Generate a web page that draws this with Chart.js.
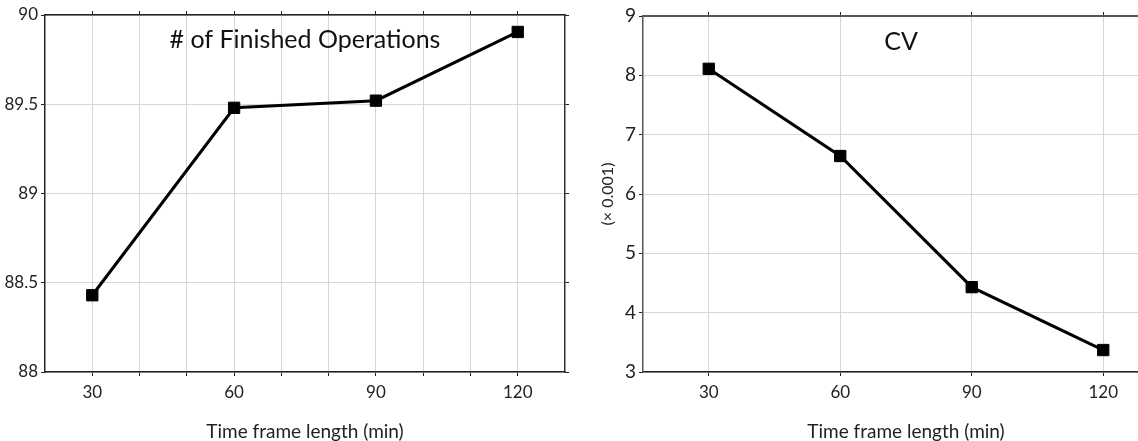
<!DOCTYPE html>
<html>
<head>
<meta charset="utf-8">
<script src="https://cdn.jsdelivr.net/npm/chart.js@4.4.1/dist/chart.umd.min.js"></script>
<style>
  html, body { margin: 0; padding: 0; background: #fff; overflow: hidden; width: 1138px; height: 441px; }
  #left { position: absolute; left: 0; top: 0; }
  #right { position: absolute; left: 580px; top: 0; }
</style>
</head>
<body>
<canvas id="left" width="580" height="441"></canvas>
<canvas id="right" width="600" height="441"></canvas>
<script>
// data
const timeFrames = [30, 60, 90, 120];
const finishedOps = [88.43, 89.48, 89.52, 89.905];
const cvValues = [8.11, 6.64, 4.43, 3.37];

// tick positions
const leftGridX = [30, 40, 50, 60, 70, 80, 90, 100, 110, 120];
const labelX = [30, 60, 90, 120];
const leftTicksY = [88, 88.5, 89, 89.5, 90];
const rightTicksY = [3, 4, 5, 6, 7, 8, 9];

const FONT = 'Lato';
const GRID = '#d6d6d6';

// title drawn inside the plot area
const innerTitle = {
  id: 'innerTitle',
  afterDraw(chart, args, opts) {
    const { ctx, chartArea } = chart;
    ctx.save();
    ctx.font = '25px ' + FONT;
    ctx.fillStyle = '#111';
    ctx.textAlign = 'center';
    ctx.textBaseline = 'alphabetic';
    ctx.fillText(opts.text, (chartArea.left + chartArea.right) / 2 + (opts.dx || 0), opts.y);
    ctx.restore();
  }
};

function setTicks(list) {
  return function (scale) {
    scale.ticks = list.map(v => ({ value: v }));
  };
}

function points(xs, ys) {
  return xs.map((x, i) => ({ x: x, y: ys[i] }));
}

function lineDataset(data) {
  return {
    data: data,
    borderColor: '#000',
    borderWidth: 3,
    pointStyle: 'rect',
    pointRadius: 8,
    pointBackgroundColor: '#000',
    pointBorderColor: '#000',
    pointBorderWidth: 1,
    tension: 0
  };
}

const xTitle = {
  display: true,
  text: 'Time frame length (min)',
  color: '#222',
  font: { family: FONT, size: 19 },
  padding: { top: 0, bottom: -2 }
};

// left chart: # of Finished Operations
new Chart(document.getElementById('left'), {
  type: 'line',
  data: { datasets: [lineDataset(points(timeFrames, finishedOps))] },
  plugins: [innerTitle],
  options: {
    responsive: false,
    animation: false,
    layout: { padding: 0 },
    plugins: {
      legend: { display: false },
      tooltip: { enabled: false },
      innerTitle: { text: '# of Finished Operations', y: 48 }
    },
    scales: {
      x: {
        type: 'linear', position: 'bottom', min: 20, max: 130,
        afterBuildTicks: setTicks(leftGridX),
        afterFit: s => { s.height = 69; },
        ticks: {
          autoSkip: false, maxRotation: 0, padding: 6, color: '#222',
          font: { family: FONT, size: 17 },
          callback: v => labelX.includes(v) ? String(v) : ''
        },
        grid: { color: GRID, tickColor: '#222', tickLength: 4 },
        border: { color: '#222', width: 1.5 },
        title: xTitle
      },
      x2: {
        type: 'linear', position: 'top', min: 20, max: 130,
        afterBuildTicks: setTicks(leftGridX),
        afterFit: s => { s.height = 15; },
        ticks: { display: false },
        grid: { drawOnChartArea: false, tickColor: '#222', tickLength: 4 },
        border: { color: '#222', width: 1.5 }
      },
      y: {
        min: 88, max: 90,
        afterBuildTicks: setTicks(leftTicksY),
        afterFit: s => { s.width = 45; },
        ticks: { color: '#222', padding: 3, font: { family: FONT, size: 17 }, callback: v => String(v) },
        grid: { color: GRID, tickColor: '#222', tickLength: 4 },
        border: { color: '#222', width: 1.5 }
      },
      y2: {
        position: 'right', min: 88, max: 90,
        afterBuildTicks: setTicks(leftTicksY),
        afterFit: s => { s.width = 15; },
        ticks: { display: false },
        grid: { drawOnChartArea: false, tickColor: '#222', tickLength: 4 },
        border: { color: '#333', width: 1.5 }
      }
    }
  }
});

// right chart: CV
new Chart(document.getElementById('right'), {
  type: 'line',
  data: { datasets: [lineDataset(points(timeFrames, cvValues))] },
  plugins: [innerTitle],
  options: {
    responsive: false,
    animation: false,
    layout: { padding: { right: 11 } },
    plugins: {
      legend: { display: false },
      tooltip: { enabled: false },
      innerTitle: { text: 'CV', y: 50, dx: -5 }
    },
    scales: {
      x: {
        type: 'linear', position: 'bottom', min: 15, max: 135,
        afterBuildTicks: setTicks(labelX),
        afterFit: s => { s.height = 69; },
        ticks: { autoSkip: false, maxRotation: 0, padding: 6, color: '#222', font: { family: FONT, size: 17 } },
        grid: { color: GRID, tickColor: '#222', tickLength: 4 },
        border: { color: '#222', width: 1.5 },
        title: xTitle
      },
      x2: {
        type: 'linear', position: 'top', min: 15, max: 135,
        afterBuildTicks: setTicks(labelX),
        afterFit: s => { s.height = 16; },
        ticks: { display: false },
        grid: { drawOnChartArea: false, tickColor: '#222', tickLength: 4 },
        border: { color: '#555', width: 2 }
      },
      y: {
        min: 3, max: 9,
        afterBuildTicks: setTicks(rightTicksY),
        afterFit: s => { s.width = 63; },
        ticks: { color: '#222', padding: 3, font: { family: FONT, size: 19 } },
        grid: { color: GRID, tickColor: '#222', tickLength: 4 },
        border: { color: '#555', width: 1.5 },
        title: {
          display: true, text: '(× 0.001)', color: '#222',
          font: { family: FONT, size: 16 },
          padding: { top: 18, bottom: 0 }
        }
      }
    }
  }
});
</script>
</body>
</html>
